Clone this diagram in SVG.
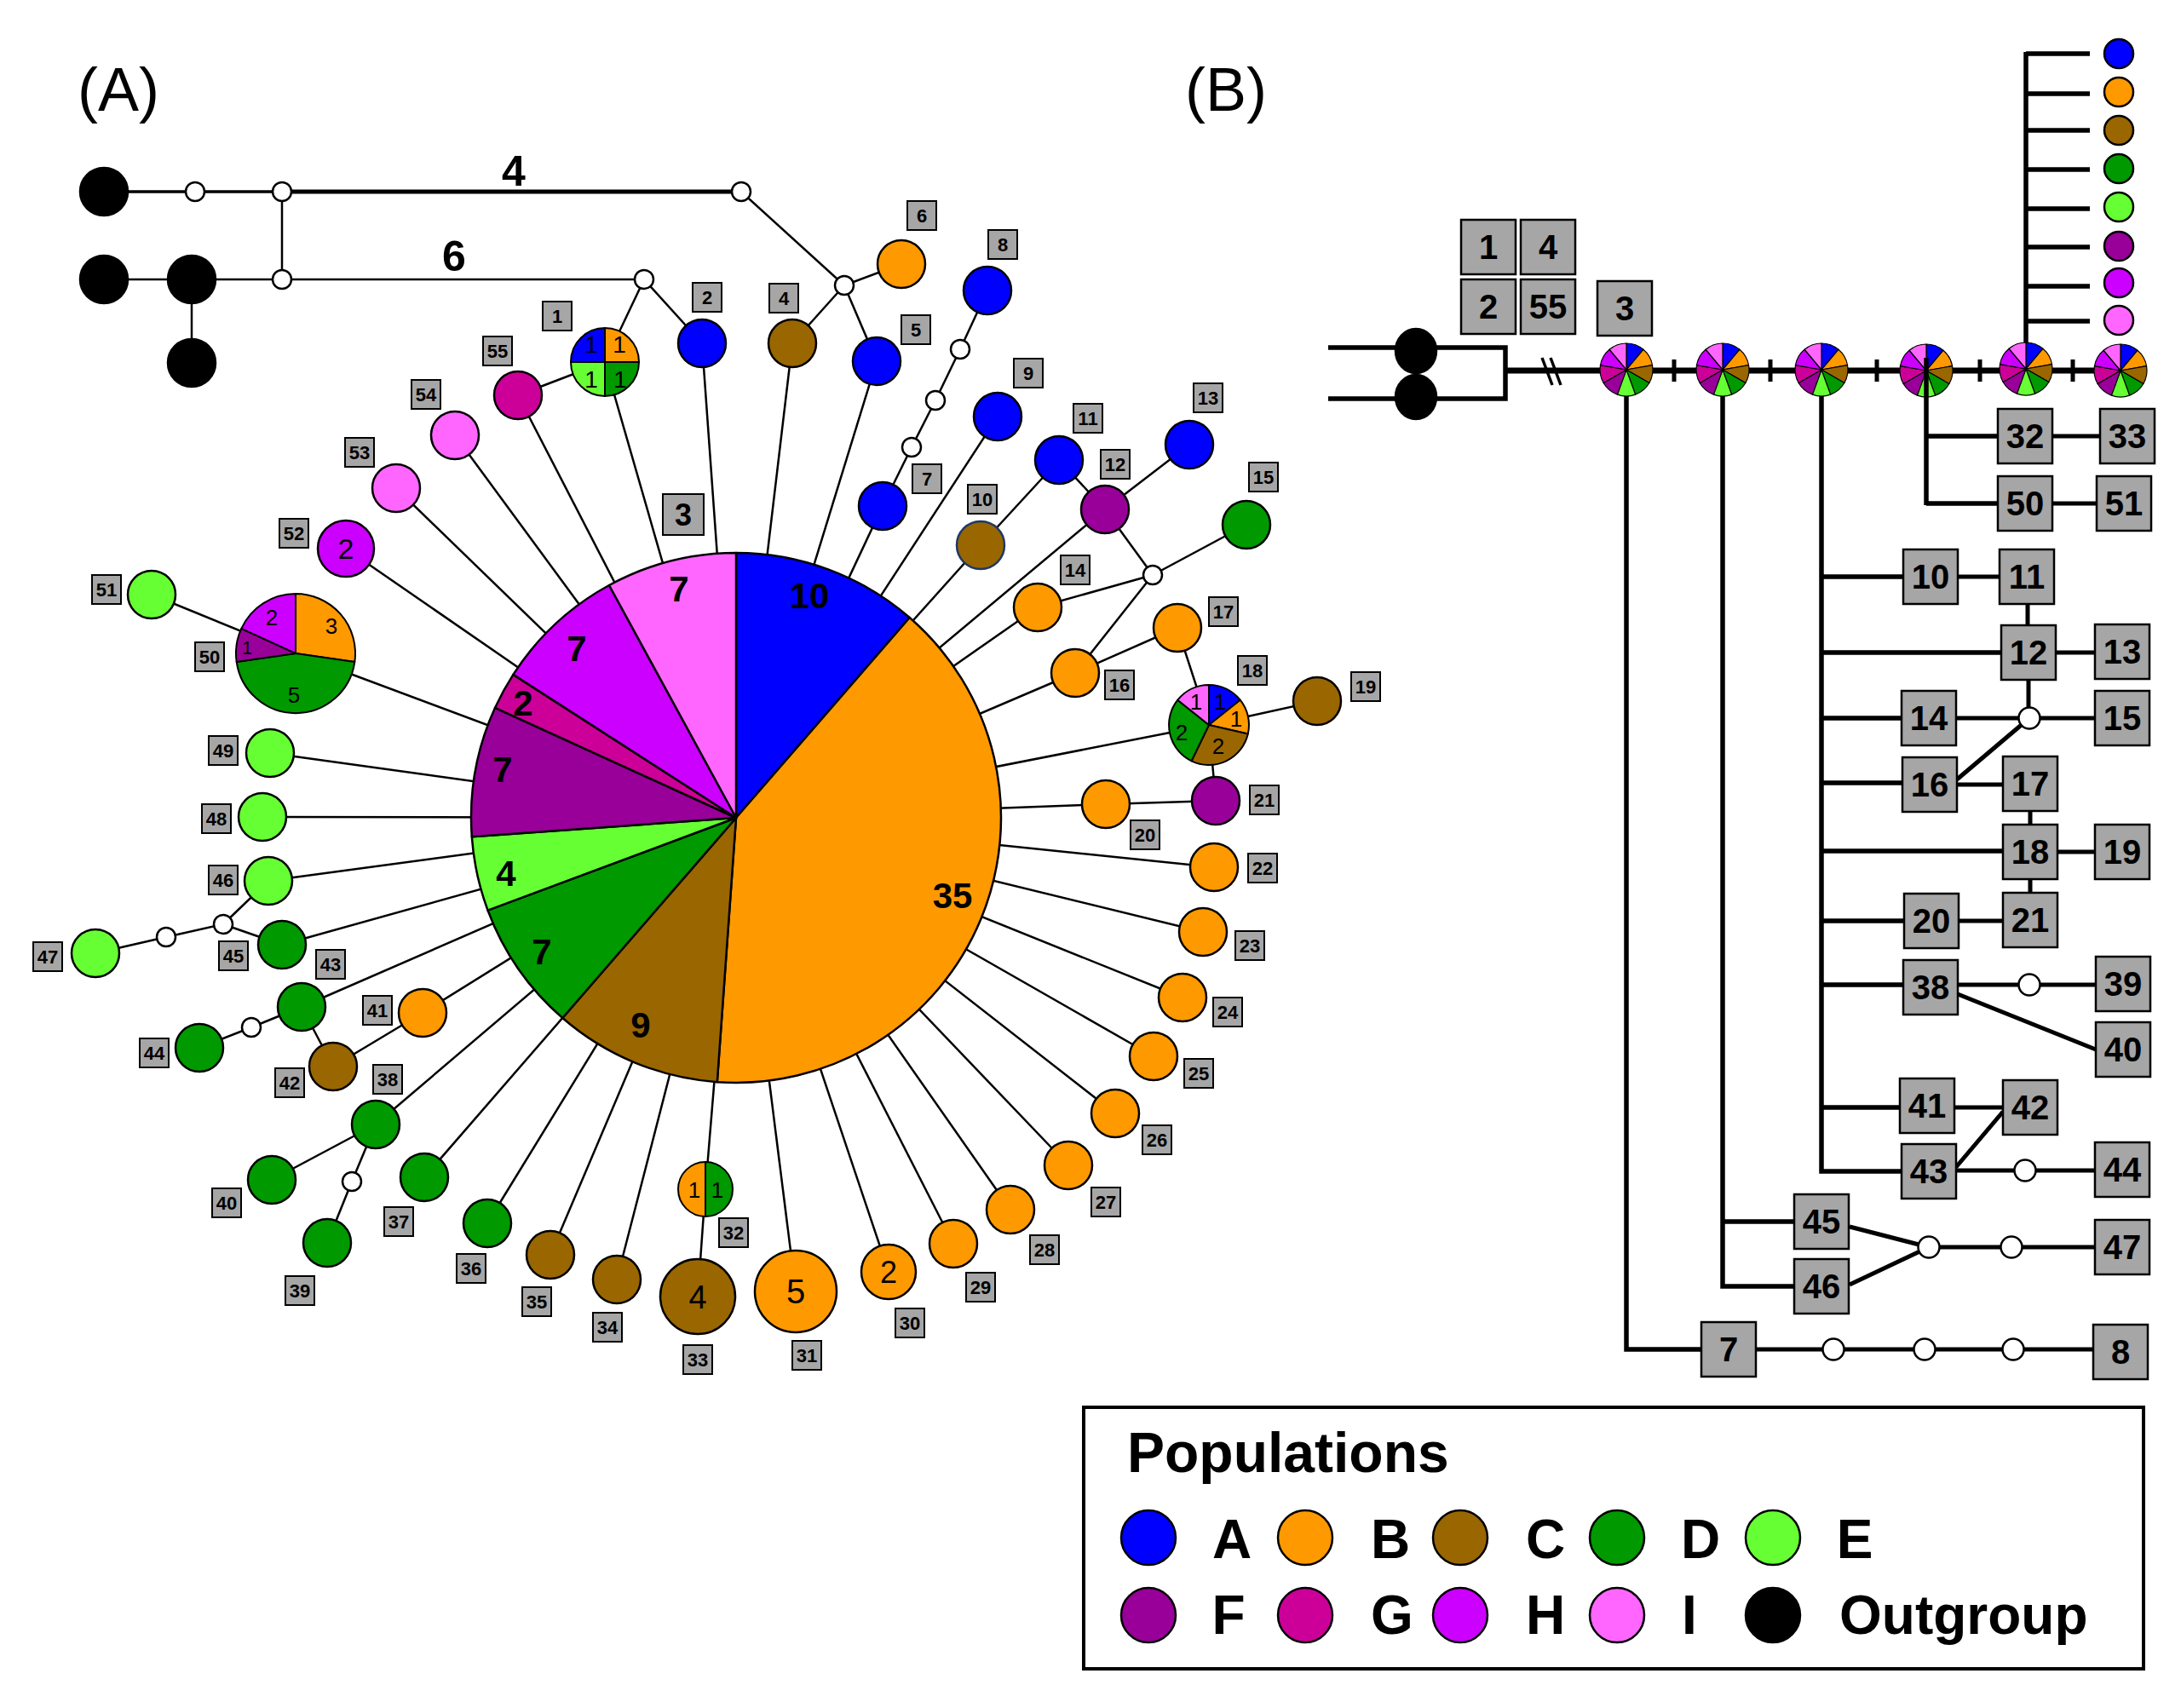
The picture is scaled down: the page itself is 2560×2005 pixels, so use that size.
<svg xmlns="http://www.w3.org/2000/svg" width="2560" height="2005" viewBox="0 0 2560 2005">
<style>
.cA{fill:#0000FF}.cB{fill:#FF9900}.cC{fill:#996600}.cD{fill:#009900}.cE{fill:#66FF33}.cF{fill:#990099}.cG{fill:#CC0099}.cH{fill:#CC00FF}.cI{fill:#FF66FF}.cO{fill:#000}
.n{stroke:#000;stroke-width:2.5}
.s{stroke:#000;stroke-width:2;stroke-linejoin:round}
.w{fill:#fff;stroke:#000;stroke-width:2.5}
.lb{fill:#A6A6A6;stroke:#000;stroke-width:2}
.lt{font-family:"Liberation Sans",Arial,sans-serif;font-weight:bold;font-size:22px;text-anchor:middle}
.bb{fill:#A6A6A6;stroke:#000;stroke-width:2.5}
.bt{font-family:"Liberation Sans Narrow","Liberation Sans",Arial,sans-serif;font-weight:bold;font-size:40px;text-anchor:middle}
.pc{font-family:"Liberation Sans",Arial,sans-serif;font-size:26px;text-anchor:middle}
.pl{font-family:"Liberation Sans",Arial,sans-serif;font-weight:bold;font-size:42px;text-anchor:middle}
.lg{font-family:"Liberation Sans",Arial,sans-serif;font-weight:bold;font-size:64px}
.ttl{font-family:"Liberation Sans",Arial,sans-serif;font-size:72px}
</style>
<defs>
<g id="bpie" class="s" style="stroke-width:1.2">
<path class="cA" d="M0,0 L0,-31 A31,31 0 0 1 19.93,-23.75 Z"/>
<path class="cB" d="M0,0 L19.93,-23.75 A31,31 0 0 1 30.53,-5.38 Z"/>
<path class="cC" d="M0,0 L30.53,-5.38 A31,31 0 0 1 26.85,15.5 Z"/>
<path class="cD" d="M0,0 L26.85,15.5 A31,31 0 0 1 10.6,29.13 Z"/>
<path class="cE" d="M0,0 L10.6,29.13 A31,31 0 0 1 -10.6,29.13 Z"/>
<path class="cF" d="M0,0 L-10.6,29.13 A31,31 0 0 1 -26.85,15.5 Z"/>
<path class="cG" d="M0,0 L-26.85,15.5 A31,31 0 0 1 -30.53,-5.38 Z"/>
<path class="cH" d="M0,0 L-30.53,-5.38 A31,31 0 0 1 -19.93,-23.75 Z"/>
<path class="cI" d="M0,0 L-19.93,-23.75 A31,31 0 0 1 0,-31 Z"/>
</g>
</defs>
<rect width="2560" height="2005" fill="#fff"/>

<text class="ttl" x="91" y="130">(A)</text>
<text class="ttl" x="1391" y="130">(B)</text>

<!-- ===== Panel A connectors ===== -->
<g id="connectors-a" stroke="#000" fill="none" stroke-width="2.5">
<line x1="122" y1="225" x2="331" y2="225" stroke-width="3.5"/>
<line x1="331" y1="225" x2="870" y2="225" stroke-width="5"/>
<line x1="331" y1="225" x2="331" y2="328"/>
<line x1="122" y1="328" x2="756" y2="328"/>
<line x1="225" y1="328" x2="225" y2="426"/>
<line x1="870" y1="225" x2="991" y2="335"/>
<line x1="991" y1="335" x2="930" y2="403"/>
<line x1="991" y1="335" x2="1029" y2="424"/>
<line x1="991" y1="335" x2="1058" y2="310"/>
<line x1="756" y1="328" x2="710" y2="425"/>
<line x1="756" y1="328" x2="824" y2="403"/>
<line x1="710" y1="425" x2="608" y2="464"/>
<line x1="1036" y1="594" x2="1070" y2="525"/>
<line x1="1070" y1="525" x2="1098" y2="470"/>
<line x1="1098" y1="470" x2="1127" y2="410"/>
<line x1="1127" y1="410" x2="1159" y2="341"/>
<line x1="1243" y1="540" x2="1151" y2="640"/>
<line x1="1243" y1="540" x2="1297" y2="598"/>
<line x1="1297" y1="598" x2="1396" y2="522"/>
<line x1="1297" y1="598" x2="1353" y2="675"/>
<line x1="1353" y1="675" x2="1463" y2="616"/>
<line x1="1353" y1="675" x2="1218" y2="713"/>
<line x1="1353" y1="675" x2="1262" y2="790"/>
<line x1="1262" y1="790" x2="1382" y2="737"/>
<line x1="1382" y1="737" x2="1419" y2="851"/>
<line x1="1419" y1="851" x2="1546" y2="823"/>
<line x1="1419" y1="851" x2="1427" y2="940"/>
<line x1="1427" y1="940" x2="1298" y2="944"/>
<line x1="178" y1="698" x2="347" y2="767"/>
<line x1="315" y1="1034" x2="262" y2="1085"/>
<line x1="262" y1="1085" x2="331" y2="1109"/>
<line x1="262" y1="1085" x2="195" y2="1100"/>
<line x1="195" y1="1100" x2="112" y2="1119"/>
<line x1="354" y1="1182" x2="295" y2="1206"/>
<line x1="295" y1="1206" x2="234" y2="1230"/>
<line x1="354" y1="1182" x2="391" y2="1252"/>
<line x1="391" y1="1252" x2="496" y2="1189"/>
<line x1="441" y1="1320" x2="319" y2="1385"/>
<line x1="441" y1="1320" x2="413" y2="1387"/>
<line x1="413" y1="1387" x2="384" y2="1459"/>
<line x1="819" y1="1522" x2="828" y2="1396"/>
<!-- radial lines to central haplotype 3 -->
<g id="radial">
<line x1="864" y1="960" x2="608" y2="464"/>
<line x1="864" y1="960" x2="534" y2="511"/>
<line x1="864" y1="960" x2="465" y2="573"/>
<line x1="864" y1="960" x2="406" y2="644"/>
<line x1="864" y1="960" x2="347" y2="767"/>
<line x1="864" y1="960" x2="317" y2="884"/>
<line x1="864" y1="960" x2="308" y2="959"/>
<line x1="864" y1="960" x2="315" y2="1034"/>
<line x1="864" y1="960" x2="331" y2="1109"/>
<line x1="864" y1="960" x2="354" y2="1182"/>
<line x1="864" y1="960" x2="496" y2="1189"/>
<line x1="864" y1="960" x2="441" y2="1320"/>
<line x1="864" y1="960" x2="498" y2="1382"/>
<line x1="864" y1="960" x2="572" y2="1436"/>
<line x1="864" y1="960" x2="646" y2="1473"/>
<line x1="864" y1="960" x2="724" y2="1502"/>
<line x1="864" y1="960" x2="828" y2="1396"/>
<line x1="864" y1="960" x2="934" y2="1516"/>
<line x1="864" y1="960" x2="1043" y2="1493"/>
<line x1="864" y1="960" x2="1119" y2="1460"/>
<line x1="864" y1="960" x2="1186" y2="1420"/>
<line x1="864" y1="960" x2="1254" y2="1368"/>
<line x1="864" y1="960" x2="1309" y2="1307"/>
<line x1="864" y1="960" x2="1354" y2="1240"/>
<line x1="864" y1="960" x2="1388" y2="1171"/>
<line x1="864" y1="960" x2="1412" y2="1094"/>
<line x1="864" y1="960" x2="1425" y2="1018"/>
<line x1="864" y1="960" x2="1298" y2="944"/>
<line x1="864" y1="960" x2="1419" y2="851"/>
<line x1="864" y1="960" x2="1262" y2="790"/>
<line x1="864" y1="960" x2="1218" y2="713"/>
<line x1="864" y1="960" x2="1297" y2="598"/>
<line x1="864" y1="960" x2="1151" y2="640"/>
<line x1="864" y1="960" x2="1171" y2="489"/>
<line x1="864" y1="960" x2="1036" y2="594"/>
<line x1="864" y1="960" x2="1029" y2="424"/>
<line x1="864" y1="960" x2="930" y2="403"/>
<line x1="864" y1="960" x2="824" y2="403"/>
<line x1="864" y1="960" x2="710" y2="425"/>
</g>
</g>
<text class="pl" x="603" y="218" style="font-size:50px">4</text>
<text class="pl" x="533" y="318" style="font-size:50px">6</text>

<!-- ===== Panel A nodes ===== -->
<g id="a-outgroup">
<circle class="cO n" cx="122" cy="225" r="28"/>
<circle class="cO n" cx="122" cy="328" r="28"/>
<circle class="cO n" cx="225" cy="328" r="28"/>
<circle class="cO n" cx="225" cy="426" r="28"/>
</g>
<g id="a-median">
<circle class="w" cx="229" cy="225" r="11"/>
<circle class="w" cx="331" cy="225" r="11"/>
<circle class="w" cx="870" cy="225" r="11"/>
<circle class="w" cx="331" cy="328" r="11"/>
<circle class="w" cx="756" cy="328" r="11"/>
<circle class="w" cx="991" cy="335" r="11"/>
<circle class="w" cx="1070" cy="525" r="11"/>
<circle class="w" cx="1098" cy="470" r="11"/>
<circle class="w" cx="1127" cy="410" r="11"/>
<circle class="w" cx="1353" cy="675" r="11"/>
<circle class="w" cx="262" cy="1085" r="11"/>
<circle class="w" cx="195" cy="1100" r="11"/>
<circle class="w" cx="295" cy="1206" r="11"/>
<circle class="w" cx="413" cy="1387" r="11"/>
</g>

<g id="a-h3">
<g class="s" style="stroke-width:2.5">
<path class="cA" d="M864,960 L864,649 A311,311 0 0 1 1067.7,725 Z"/>
<path class="cB" d="M864,960 L1067.7,725 A311,311 0 0 1 841.8,1270.2 Z"/>
<path class="cC" d="M864,960 L841.8,1270.2 A311,311 0 0 1 660.3,1195 Z"/>
<path class="cD" d="M864,960 L660.3,1195 A311,311 0 0 1 572.6,1068.7 Z"/>
<path class="cE" d="M864,960 L572.6,1068.7 A311,311 0 0 1 553.8,982.2 Z"/>
<path class="cF" d="M864,960 L553.8,982.2 A311,311 0 0 1 581.1,830.8 Z"/>
<path class="cG" d="M864,960 L581.1,830.8 A311,311 0 0 1 602.4,791.9 Z"/>
<path class="cH" d="M864,960 L602.4,791.9 A311,311 0 0 1 715,687 Z"/>
<path class="cI" d="M864,960 L715,687 A311,311 0 0 1 864,649 Z"/>
</g>
<text class="pl" x="950" y="714">10</text>
<text class="pl" x="1118" y="1066">35</text>
<text class="pl" x="752" y="1218">9</text>
<text class="pl" x="636" y="1132">7</text>
<text class="pl" x="594" y="1040">4</text>
<text class="pl" x="590" y="918">7</text>
<text class="pl" x="614" y="840">2</text>
<text class="pl" x="677" y="776">7</text>
<text class="pl" x="797" y="706">7</text>
<rect class="lb" x="778" y="580" width="48" height="48"/><text class="lt" x="802" y="617" style="font-size:36px">3</text>
</g>

<g id="a-h1">
<g class="s">
<path class="cA" d="M710,425 L670,425 A40,40 0 0 1 710,385 Z"/>
<path class="cB" d="M710,425 L710,385 A40,40 0 0 1 750,425 Z"/>
<path class="cD" d="M710,425 L750,425 A40,40 0 0 1 710,465 Z"/>
<path class="cE" d="M710,425 L710,465 A40,40 0 0 1 670,425 Z"/>
</g>
<text class="pc" x="694" y="414" style="font-size:28px">1</text><text class="pc" x="727" y="414" style="font-size:28px">1</text>
<text class="pc" x="694" y="455" style="font-size:28px">1</text><text class="pc" x="728" y="455" style="font-size:28px">1</text>
<rect class="lb" x="637" y="354" width="34" height="34"/><text class="lt" x="654" y="379">1</text>
</g>
<g id="a-h2"><circle class="cA n" cx="824" cy="403" r="28"/><rect class="lb" x="813" y="332" width="34" height="34"/><text class="lt" x="830" y="357">2</text></g>
<g id="a-h4"><circle class="cC n" cx="930" cy="403" r="28"/><rect class="lb" x="903" y="333" width="34" height="34"/><text class="lt" x="920" y="358">4</text></g>
<g id="a-h5"><circle class="cA n" cx="1029" cy="424" r="28"/><rect class="lb" x="1058" y="370" width="34" height="34"/><text class="lt" x="1075" y="395">5</text></g>
<g id="a-h6"><circle class="cB n" cx="1058" cy="310" r="28"/><rect class="lb" x="1065" y="236" width="34" height="34"/><text class="lt" x="1082" y="261">6</text></g>
<g id="a-h7"><circle class="cA n" cx="1036" cy="594" r="28"/><rect class="lb" x="1071" y="545" width="34" height="34"/><text class="lt" x="1088" y="570">7</text></g>
<g id="a-h8"><circle class="cA n" cx="1159" cy="341" r="28"/><rect class="lb" x="1160" y="270" width="34" height="34"/><text class="lt" x="1177" y="295">8</text></g>
<g id="a-h9"><circle class="cA n" cx="1171" cy="489" r="28"/><rect class="lb" x="1190" y="421" width="34" height="34"/><text class="lt" x="1207" y="446">9</text></g>
<g id="a-h10"><circle class="cC" cx="1151" cy="640" r="28" stroke="#203864" stroke-width="2.5"/><rect class="lb" x="1136" y="569" width="34" height="34"/><text class="lt" x="1153" y="594">10</text></g>
<g id="a-h11"><circle class="cA n" cx="1243" cy="540" r="28"/><rect class="lb" x="1260" y="474" width="34" height="34"/><text class="lt" x="1277" y="499">11</text></g>
<g id="a-h12"><circle class="cF n" cx="1297" cy="598" r="28"/><rect class="lb" x="1292" y="528" width="34" height="34"/><text class="lt" x="1309" y="553">12</text></g>
<g id="a-h13"><circle class="cA n" cx="1396" cy="522" r="28"/><rect class="lb" x="1401" y="450" width="34" height="34"/><text class="lt" x="1418" y="475">13</text></g>
<g id="a-h14"><circle class="cB n" cx="1218" cy="713" r="28"/><rect class="lb" x="1245" y="652" width="34" height="34"/><text class="lt" x="1262" y="677">14</text></g>
<g id="a-h15"><circle class="cD n" cx="1463" cy="616" r="28"/><rect class="lb" x="1466" y="543" width="34" height="34"/><text class="lt" x="1483" y="568">15</text></g>
<g id="a-h16"><circle class="cB n" cx="1262" cy="790" r="28"/><rect class="lb" x="1297" y="787" width="34" height="34"/><text class="lt" x="1314" y="812">16</text></g>
<g id="a-h17"><circle class="cB n" cx="1382" cy="737" r="28"/><rect class="lb" x="1419" y="701" width="34" height="34"/><text class="lt" x="1436" y="726">17</text></g>
<g id="a-h18">
<g class="s">
<path class="cA" d="M1419,851 L1419,804 A47,47 0 0 1 1455.7,821.7 Z"/>
<path class="cB" d="M1419,851 L1455.7,821.7 A47,47 0 0 1 1464.8,861.5 Z"/>
<path class="cC" d="M1419,851 L1464.8,861.5 A47,47 0 0 1 1398.6,893.3 Z"/>
<path class="cD" d="M1419,851 L1398.6,893.3 A47,47 0 0 1 1382.3,821.7 Z"/>
<path class="cI" d="M1419,851 L1382.3,821.7 A47,47 0 0 1 1419,804 Z"/>
</g>
<text class="pc" x="1432" y="833">1</text><text class="pc" x="1451" y="853">1</text><text class="pc" x="1430" y="885">2</text><text class="pc" x="1387" y="869">2</text><text class="pc" x="1404" y="833">1</text>
<rect class="lb" x="1453" y="770" width="34" height="34"/><text class="lt" x="1470" y="795">18</text>
</g>
<g id="a-h19"><circle class="cC n" cx="1546" cy="823" r="28"/><rect class="lb" x="1586" y="789" width="34" height="34"/><text class="lt" x="1603" y="814">19</text></g>
<g id="a-h20"><circle class="cB n" cx="1298" cy="944" r="28"/><rect class="lb" x="1327" y="963" width="34" height="34"/><text class="lt" x="1344" y="988">20</text></g>
<g id="a-h21"><circle class="cF n" cx="1427" cy="940" r="28"/><rect class="lb" x="1467" y="922" width="34" height="34"/><text class="lt" x="1484" y="947">21</text></g>
<g id="a-h22"><circle class="cB n" cx="1425" cy="1018" r="28"/><rect class="lb" x="1465" y="1002" width="34" height="34"/><text class="lt" x="1482" y="1027">22</text></g>
<g id="a-h23"><circle class="cB n" cx="1412" cy="1094" r="28"/><rect class="lb" x="1450" y="1093" width="34" height="34"/><text class="lt" x="1467" y="1118">23</text></g>
<g id="a-h24"><circle class="cB n" cx="1388" cy="1171" r="28"/><rect class="lb" x="1424" y="1171" width="34" height="34"/><text class="lt" x="1441" y="1196">24</text></g>
<g id="a-h25"><circle class="cB n" cx="1354" cy="1240" r="28"/><rect class="lb" x="1390" y="1243" width="34" height="34"/><text class="lt" x="1407" y="1268">25</text></g>
<g id="a-h26"><circle class="cB n" cx="1309" cy="1307" r="28"/><rect class="lb" x="1341" y="1321" width="34" height="34"/><text class="lt" x="1358" y="1346">26</text></g>
<g id="a-h27"><circle class="cB n" cx="1254" cy="1368" r="28"/><rect class="lb" x="1281" y="1394" width="34" height="34"/><text class="lt" x="1298" y="1419">27</text></g>
<g id="a-h28"><circle class="cB n" cx="1186" cy="1420" r="28"/><rect class="lb" x="1209" y="1450" width="34" height="34"/><text class="lt" x="1226" y="1475">28</text></g>
<g id="a-h29"><circle class="cB n" cx="1119" cy="1460" r="28"/><rect class="lb" x="1134" y="1494" width="34" height="34"/><text class="lt" x="1151" y="1519">29</text></g>
<g id="a-h30"><circle class="cB n" cx="1043" cy="1493" r="32"/><text class="pc" x="1043" y="1506" style="font-size:36px">2</text><rect class="lb" x="1051" y="1536" width="34" height="34"/><text class="lt" x="1068" y="1561">30</text></g>
<g id="a-h31"><circle class="cB n" cx="934" cy="1516" r="48"/><text class="pc" x="934" y="1530" style="font-size:40px">5</text><rect class="lb" x="930" y="1574" width="34" height="34"/><text class="lt" x="947" y="1599">31</text></g>
<g id="a-h32">
<g class="s"><path class="cB" d="M828,1364 A32,32 0 0 0 828,1428 Z"/><path class="cD" d="M828,1364 A32,32 0 0 1 828,1428 Z"/></g>
<text class="pc" x="815" y="1406">1</text><text class="pc" x="842" y="1406">1</text>
<rect class="lb" x="844" y="1430" width="34" height="34"/><text class="lt" x="861" y="1455">32</text>
</g>
<g id="a-h33"><circle class="cC n" cx="819" cy="1522" r="44"/><text class="pc" x="819" y="1536" style="font-size:38px">4</text><rect class="lb" x="802" y="1579" width="34" height="34"/><text class="lt" x="819" y="1604">33</text></g>
<g id="a-h34"><circle class="cC n" cx="724" cy="1502" r="28"/><rect class="lb" x="696" y="1541" width="34" height="34"/><text class="lt" x="713" y="1566">34</text></g>
<g id="a-h35"><circle class="cC n" cx="646" cy="1473" r="28"/><rect class="lb" x="613" y="1511" width="34" height="34"/><text class="lt" x="630" y="1536">35</text></g>
<g id="a-h36"><circle class="cD n" cx="572" cy="1436" r="28"/><rect class="lb" x="536" y="1472" width="34" height="34"/><text class="lt" x="553" y="1497">36</text></g>
<g id="a-h37"><circle class="cD n" cx="498" cy="1382" r="28"/><rect class="lb" x="451" y="1417" width="34" height="34"/><text class="lt" x="468" y="1442">37</text></g>
<g id="a-h38"><circle class="cD n" cx="441" cy="1320" r="28"/><rect class="lb" x="438" y="1250" width="34" height="34"/><text class="lt" x="455" y="1275">38</text></g>
<g id="a-h39"><circle class="cD n" cx="384" cy="1459" r="28"/><rect class="lb" x="335" y="1498" width="34" height="34"/><text class="lt" x="352" y="1523">39</text></g>
<g id="a-h40"><circle class="cD n" cx="319" cy="1385" r="28"/><rect class="lb" x="249" y="1395" width="34" height="34"/><text class="lt" x="266" y="1420">40</text></g>
<g id="a-h41"><circle class="cB n" cx="496" cy="1189" r="28"/><rect class="lb" x="426" y="1169" width="34" height="34"/><text class="lt" x="443" y="1194">41</text></g>
<g id="a-h42"><circle class="cC n" cx="391" cy="1252" r="28"/><rect class="lb" x="323" y="1254" width="34" height="34"/><text class="lt" x="340" y="1279">42</text></g>
<g id="a-h43"><circle class="cD n" cx="354" cy="1182" r="28"/><rect class="lb" x="371" y="1115" width="34" height="34"/><text class="lt" x="388" y="1140">43</text></g>
<g id="a-h44"><circle class="cD n" cx="234" cy="1230" r="28"/><rect class="lb" x="164" y="1219" width="34" height="34"/><text class="lt" x="181" y="1244">44</text></g>
<g id="a-h45"><circle class="cD n" cx="331" cy="1109" r="28"/><rect class="lb" x="257" y="1105" width="34" height="34"/><text class="lt" x="274" y="1130">45</text></g>
<g id="a-h46"><circle class="cE n" cx="315" cy="1034" r="28"/><rect class="lb" x="245" y="1016" width="34" height="34"/><text class="lt" x="262" y="1041">46</text></g>
<g id="a-h47"><circle class="cE n" cx="112" cy="1119" r="28"/><rect class="lb" x="39" y="1106" width="34" height="34"/><text class="lt" x="56" y="1131">47</text></g>
<g id="a-h48"><circle class="cE n" cx="308" cy="959" r="28"/><rect class="lb" x="237" y="944" width="34" height="34"/><text class="lt" x="254" y="969">48</text></g>
<g id="a-h49"><circle class="cE n" cx="317" cy="884" r="28"/><rect class="lb" x="245" y="864" width="34" height="34"/><text class="lt" x="262" y="889">49</text></g>
<g id="a-h50">
<g class="s">
<path class="cB" d="M347,767 L347,697 A70,70 0 0 1 416.3,777 Z"/>
<path class="cD" d="M347,767 L416.3,777 A70,70 0 0 1 277.7,777 Z"/>
<path class="cF" d="M347,767 L277.7,777 A70,70 0 0 1 283.3,737.9 Z"/>
<path class="cH" d="M347,767 L283.3,737.9 A70,70 0 0 1 347,697 Z"/>
</g>
<text class="pc" x="389" y="744">3</text><text class="pc" x="345" y="825">5</text><text class="pc" x="290" y="768" style="font-size:22px">1</text><text class="pc" x="319" y="734">2</text>
<rect class="lb" x="229" y="754" width="34" height="34"/><text class="lt" x="246" y="779">50</text>
</g>
<g id="a-h51"><circle class="cE n" cx="178" cy="698" r="28"/><rect class="lb" x="108" y="675" width="34" height="34"/><text class="lt" x="125" y="700">51</text></g>
<g id="a-h52"><circle class="cH n" cx="406" cy="644" r="33"/><text class="pc" x="406" y="656" style="font-size:34px">2</text><rect class="lb" x="328" y="609" width="34" height="34"/><text class="lt" x="345" y="634">52</text></g>
<g id="a-h53"><circle class="cI n" cx="465" cy="573" r="28"/><rect class="lb" x="405" y="514" width="34" height="34"/><text class="lt" x="422" y="539">53</text></g>
<g id="a-h54"><circle class="cI n" cx="534" cy="511" r="28"/><rect class="lb" x="483" y="446" width="34" height="34"/><text class="lt" x="500" y="471">54</text></g>
<g id="a-h55"><circle class="cG n" cx="608" cy="464" r="28"/><rect class="lb" x="567" y="395" width="34" height="34"/><text class="lt" x="584" y="420">55</text></g>

<!-- ===== Panel B connectors ===== -->
<g id="connectors-b" stroke="#000" fill="none" stroke-width="5.5">
<path d="M1559,408 H1767 V468 H1559"/>
<line x1="1767" y1="435" x2="2489" y2="435" stroke-width="7"/>
<g stroke-width="5">
<line x1="1965" y1="422" x2="1965" y2="448"/>
<line x1="2078" y1="422" x2="2078" y2="448"/>
<line x1="2203" y1="422" x2="2203" y2="448"/>
<line x1="2324" y1="422" x2="2324" y2="448"/>
<line x1="2433" y1="422" x2="2433" y2="448"/>
</g>
<path d="M1909,434 V1584 H1997"/>
<path d="M2022,434 V1510 H2106 M2022,1434 H2106"/>
<path d="M2138,434 V1375 H2232 M2138,677 H2234 M2138,766 H2349 M2138,843 H2232 M2138,919 H2232 M2138,999 H2351 M2138,1081 H2235 M2138,1156 H2234 M2138,1300 H2230"/>
<path d="M2378,61 V435 M2378,63 H2453 M2378,110 H2453 M2378,153 H2453 M2378,199 H2453 M2378,245 H2453 M2378,290 H2453 M2378,336 H2453 M2378,377 H2453"/>
<g stroke-width="5">
<path d="M2409,512 H2465 M2409,591 H2461"/>
<path d="M2298,677 H2347 M2380,709 V734 M2413,766 H2459 M2381,797 V843 M2296,843 H2459 M2382,843 L2297,915 M2297,921 H2351 M2383,953 V968 M2415,1000 H2459 M2383,1032 V1048 M2299,1081 H2351"/>
<path d="M2298,1156 H2460 M2298,1167 L2460,1232"/>
<path d="M2294,1300 H2351 M2296,1370 L2351,1305 M2296,1374 H2459"/>
<path d="M2171,1440 L2264,1464 M2171,1508 L2264,1464 M2264,1464 H2459"/>
<path d="M2061,1584 H2457"/>
</g>
<g stroke-width="3.5">
<line x1="1810" y1="420" x2="1822" y2="452"/>
<line x1="1820" y1="420" x2="1832" y2="452"/>
</g>
</g>

<!-- ===== Panel B nodes ===== -->
<g id="b-outgroup">
<ellipse class="cO n" cx="1662" cy="412" rx="24" ry="26"/>
<ellipse class="cO n" cx="1662" cy="466" rx="24" ry="26"/>
</g>
<g id="b-pies">
<use href="#bpie" x="1909" y="434"/>
<use href="#bpie" x="2022" y="434"/>
<use href="#bpie" x="2138" y="434"/>
<use href="#bpie" x="2261" y="435"/>
<use href="#bpie" x="2378" y="433"/>
<use href="#bpie" x="2489" y="435"/>
</g>
<line x1="2261" y1="420" x2="2261" y2="593" stroke="#000" stroke-width="5.5"/>
<path d="M2261,512 H2345 M2261,591 H2345" stroke="#000" stroke-width="5.5" fill="none"/>
<g id="b-outgroup-key">
<circle class="cA n" cx="2487" cy="63" r="17"/>
<circle class="cB n" cx="2487" cy="108" r="17"/>
<circle class="cC n" cx="2487" cy="153" r="17"/>
<circle class="cD n" cx="2487" cy="198" r="17"/>
<circle class="cE n" cx="2487" cy="243" r="17"/>
<circle class="cF n" cx="2487" cy="289" r="17"/>
<circle class="cH n" cx="2487" cy="332" r="17"/>
<circle class="cI n" cx="2487" cy="376" r="17"/>
</g>
<g id="b-median">
<circle class="w" cx="2382" cy="843" r="12.5"/>
<circle class="w" cx="2382" cy="1156" r="12.5"/>
<circle class="w" cx="2377" cy="1374" r="12.5"/>
<circle class="w" cx="2264" cy="1464" r="12.5"/>
<circle class="w" cx="2361" cy="1464" r="12.5"/>
<circle class="w" cx="2152" cy="1584" r="12.5"/>
<circle class="w" cx="2259" cy="1584" r="12.5"/>
<circle class="w" cx="2363" cy="1584" r="12.5"/>
</g>
<g id="b-h1"><rect class="bb" x="1715" y="258" width="64" height="64"/><text class="bt" x="1747" y="304">1</text></g>
<g id="b-h4"><rect class="bb" x="1785" y="258" width="64" height="64"/><text class="bt" x="1817" y="304">4</text></g>
<g id="b-h2"><rect class="bb" x="1715" y="328" width="64" height="64"/><text class="bt" x="1747" y="374">2</text></g>
<g id="b-h55"><rect class="bb" x="1785" y="328" width="64" height="64"/><text class="bt" x="1817" y="374">55</text></g>
<g id="b-h3"><rect class="bb" x="1875" y="330" width="64" height="64"/><text class="bt" x="1907" y="376">3</text></g>
<g id="b-h32"><rect class="bb" x="2345" y="480" width="64" height="64"/><text class="bt" x="2377" y="526">32</text></g>
<g id="b-h33"><rect class="bb" x="2465" y="480" width="64" height="64"/><text class="bt" x="2497" y="526">33</text></g>
<g id="b-h50"><rect class="bb" x="2345" y="559" width="64" height="64"/><text class="bt" x="2377" y="605">50</text></g>
<g id="b-h51"><rect class="bb" x="2461" y="559" width="64" height="64"/><text class="bt" x="2493" y="605">51</text></g>
<g id="b-h10"><rect class="bb" x="2234" y="645" width="64" height="64"/><text class="bt" x="2266" y="691">10</text></g>
<g id="b-h11"><rect class="bb" x="2347" y="645" width="64" height="64"/><text class="bt" x="2379" y="691">11</text></g>
<g id="b-h12"><rect class="bb" x="2349" y="734" width="64" height="64"/><text class="bt" x="2381" y="780">12</text></g>
<g id="b-h13"><rect class="bb" x="2459" y="733" width="64" height="64"/><text class="bt" x="2491" y="779">13</text></g>
<g id="b-h14"><rect class="bb" x="2232" y="811" width="64" height="64"/><text class="bt" x="2264" y="857">14</text></g>
<g id="b-h15"><rect class="bb" x="2459" y="811" width="64" height="64"/><text class="bt" x="2491" y="857">15</text></g>
<g id="b-h16"><rect class="bb" x="2233" y="889" width="64" height="64"/><text class="bt" x="2265" y="935">16</text></g>
<g id="b-h17"><rect class="bb" x="2351" y="888" width="64" height="64"/><text class="bt" x="2383" y="934">17</text></g>
<g id="b-h18"><rect class="bb" x="2351" y="968" width="64" height="64"/><text class="bt" x="2383" y="1014">18</text></g>
<g id="b-h19"><rect class="bb" x="2459" y="968" width="64" height="64"/><text class="bt" x="2491" y="1014">19</text></g>
<g id="b-h20"><rect class="bb" x="2235" y="1049" width="64" height="64"/><text class="bt" x="2267" y="1095">20</text></g>
<g id="b-h21"><rect class="bb" x="2351" y="1048" width="64" height="64"/><text class="bt" x="2383" y="1094">21</text></g>
<g id="b-h38"><rect class="bb" x="2234" y="1127" width="64" height="64"/><text class="bt" x="2266" y="1173">38</text></g>
<g id="b-h39"><rect class="bb" x="2460" y="1123" width="64" height="64"/><text class="bt" x="2492" y="1169">39</text></g>
<g id="b-h40"><rect class="bb" x="2460" y="1200" width="64" height="64"/><text class="bt" x="2492" y="1246">40</text></g>
<g id="b-h41"><rect class="bb" x="2230" y="1266" width="64" height="64"/><text class="bt" x="2262" y="1312">41</text></g>
<g id="b-h42"><rect class="bb" x="2351" y="1268" width="64" height="64"/><text class="bt" x="2383" y="1314">42</text></g>
<g id="b-h43"><rect class="bb" x="2232" y="1343" width="64" height="64"/><text class="bt" x="2264" y="1389">43</text></g>
<g id="b-h44"><rect class="bb" x="2459" y="1341" width="64" height="64"/><text class="bt" x="2491" y="1387">44</text></g>
<g id="b-h45"><rect class="bb" x="2106" y="1402" width="64" height="64"/><text class="bt" x="2138" y="1448">45</text></g>
<g id="b-h46"><rect class="bb" x="2106" y="1478" width="64" height="64"/><text class="bt" x="2138" y="1524">46</text></g>
<g id="b-h47"><rect class="bb" x="2459" y="1432" width="64" height="64"/><text class="bt" x="2491" y="1478">47</text></g>
<g id="b-h7"><rect class="bb" x="1997" y="1552" width="64" height="64"/><text class="bt" x="2029" y="1598">7</text></g>
<g id="b-h8"><rect class="bb" x="2457" y="1555" width="64" height="64"/><text class="bt" x="2489" y="1601">8</text></g>

<!-- ===== Legend ===== -->
<g id="legend">
<rect x="1272" y="1652" width="1244" height="307" fill="#fff" stroke="#000" stroke-width="4"/>
<text class="lg" x="1323" y="1728" style="font-size:66px">Populations</text>
<circle class="cA n" cx="1348" cy="1805" r="32"/><text class="lg" x="1446" y="1829" text-anchor="middle">A</text>
<circle class="cB n" cx="1532" cy="1805" r="32"/><text class="lg" x="1632" y="1829" text-anchor="middle">B</text>
<circle class="cC n" cx="1714" cy="1805" r="32"/><text class="lg" x="1814" y="1829" text-anchor="middle">C</text>
<circle class="cD n" cx="1898" cy="1805" r="32"/><text class="lg" x="1996" y="1829" text-anchor="middle">D</text>
<circle class="cE n" cx="2081" cy="1805" r="32"/><text class="lg" x="2177" y="1829" text-anchor="middle">E</text>
<circle class="cF n" cx="1348" cy="1896" r="32"/><text class="lg" x="1442" y="1918" text-anchor="middle">F</text>
<circle class="cG n" cx="1532" cy="1896" r="32"/><text class="lg" x="1634" y="1918" text-anchor="middle">G</text>
<circle class="cH n" cx="1714" cy="1896" r="32"/><text class="lg" x="1814" y="1918" text-anchor="middle">H</text>
<circle class="cI n" cx="1898" cy="1896" r="32"/><text class="lg" x="1983" y="1918" text-anchor="middle">I</text>
<circle class="cO n" cx="2081" cy="1896" r="32"/><text class="lg" x="2159" y="1918">Outgroup</text>
</g>
</svg>
